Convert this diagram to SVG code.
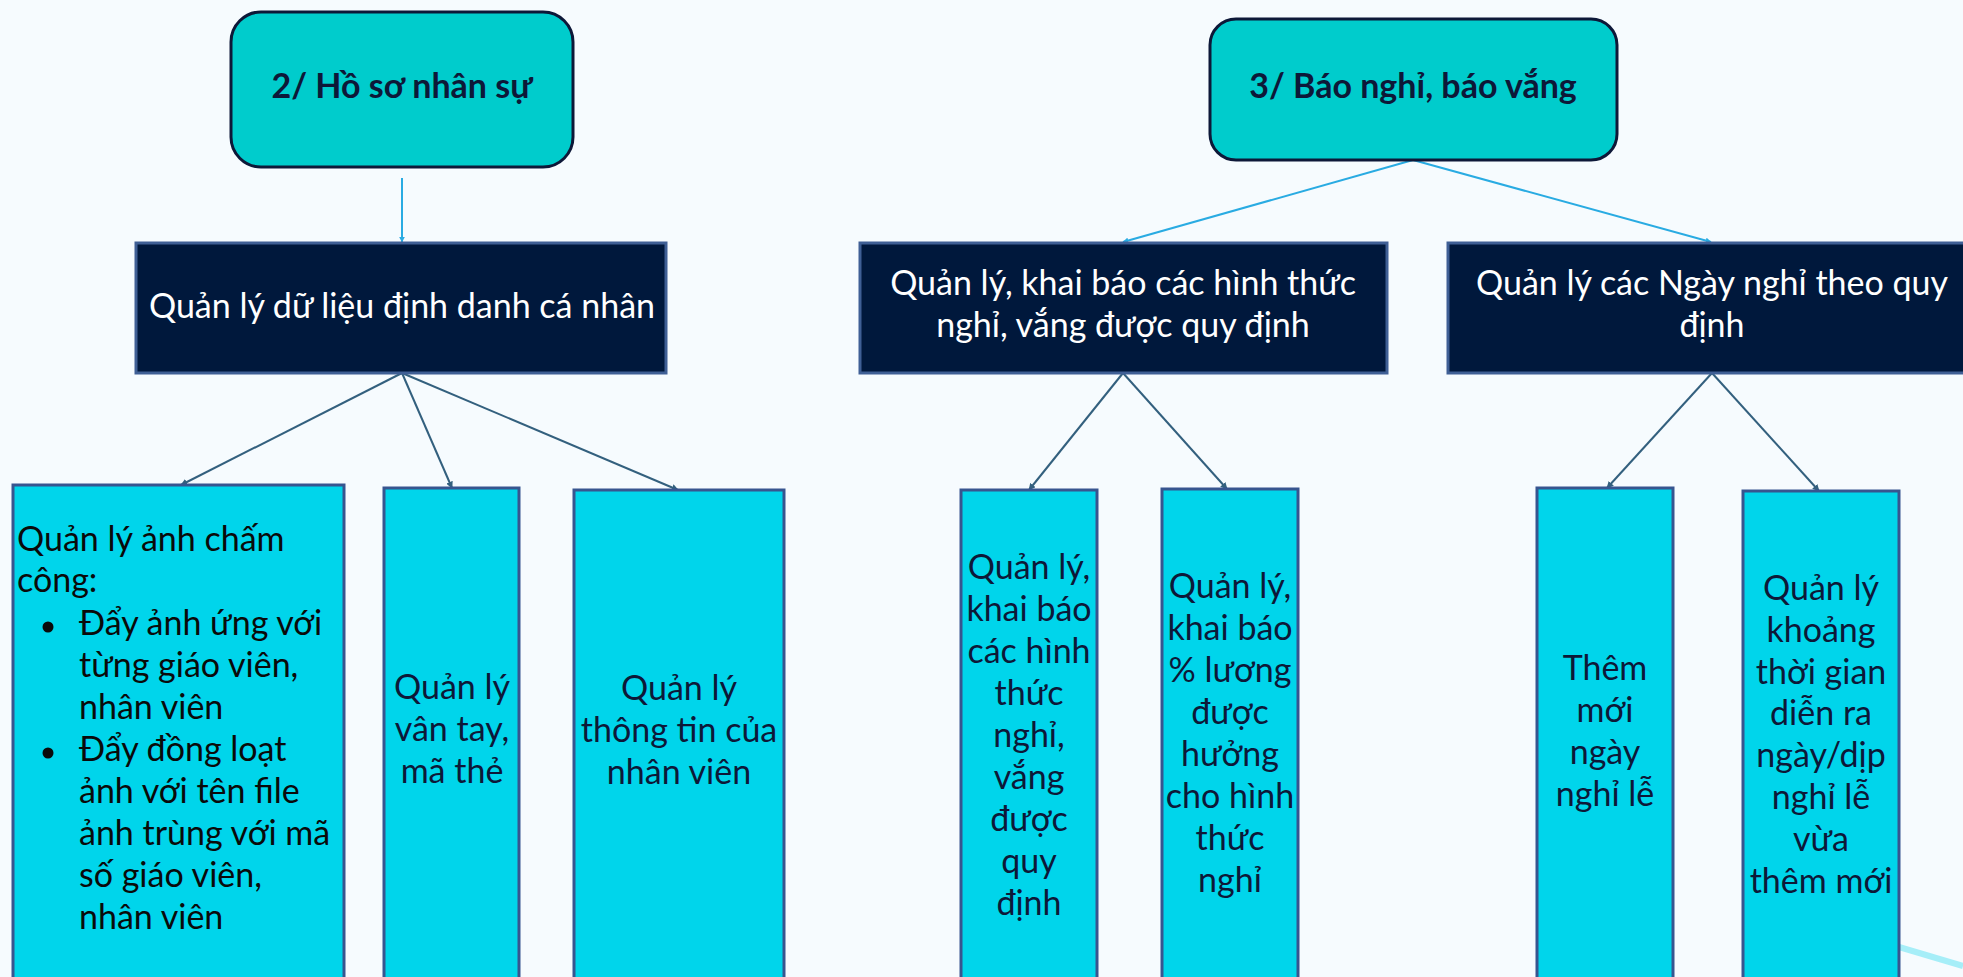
<svg xmlns="http://www.w3.org/2000/svg" width="1963" height="977" viewBox="0 0 1963 977">
<defs>
<style>
.title{fill:#00cccc;stroke:#0d1838;stroke-width:3}
.dark{fill:#00183c;stroke:#3f5f95;stroke-width:3}
.leaf{fill:#00d5eb;stroke:#37558f;stroke-width:3}
.tt{font-family:Lato,"Open Sans","Noto Sans",sans-serif;font-weight:bold;font-size:34px;fill:#0d1838;text-anchor:middle}
.dt{font-family:Lato,"Open Sans","Noto Sans",sans-serif;font-size:34px;fill:#ffffff;text-anchor:middle}
.lt{font-family:Lato,"Open Sans","Noto Sans",sans-serif;font-size:34px;fill:#0d1838;text-anchor:middle}
.at{font-family:Lato,"Open Sans","Noto Sans",sans-serif;font-size:34px;fill:#0a0a0a}
.c1{stroke:#29abe2;stroke-width:2;fill:none;marker-end:url(#ab)}
.c2{stroke:#33607e;stroke-width:2;fill:none;marker-end:url(#ad)}
</style>
<marker id="ab" viewBox="0 0 10 10" refX="9" refY="5" markerWidth="6" markerHeight="6" orient="auto" markerUnits="userSpaceOnUse"><path d="M0,0 L10,5 L0,10 z" fill="#29abe2"/></marker>
<marker id="ad" viewBox="0 0 10 10" refX="9" refY="5" markerWidth="7" markerHeight="7" orient="auto" markerUnits="userSpaceOnUse"><path d="M0,0 L10,5 L0,10 z" fill="#33607e"/></marker>
</defs>
<rect x="0" y="0" width="1963" height="977" fill="#f6fbfe"/>
<line x1="1899" y1="947" x2="1963" y2="966" stroke="#a6eef8" stroke-width="6"/>

<g id="connectors">
<line class="c1" x1="402" y1="178" x2="402" y2="242"/>
<line class="c1" x1="1413" y1="160" x2="1123" y2="242"/>
<line class="c1" x1="1413" y1="160" x2="1711" y2="242"/>
<line class="c2" x1="402" y1="373" x2="181" y2="485"/>
<line class="c2" x1="402" y1="373" x2="452" y2="488"/>
<line class="c2" x1="402" y1="373" x2="678" y2="490"/>
<line class="c2" x1="1123" y1="373" x2="1029" y2="490"/>
<line class="c2" x1="1123" y1="373" x2="1227" y2="489"/>
<line class="c2" x1="1712" y1="373" x2="1607" y2="488"/>
<line class="c2" x1="1712" y1="373" x2="1819" y2="491"/>
</g>

<g id="n-hoso">
<rect class="title" x="231" y="12" width="342" height="155" rx="30"/>
<text class="tt" x="402" y="98">2/ Hồ sơ nhân sự</text>
</g>
<g id="n-baonghi">
<rect class="title" x="1210" y="19" width="407" height="141" rx="26"/>
<text class="tt" x="1413" y="98">3/ Báo nghỉ, báo vắng</text>
</g>

<g id="n-dinhdanh">
<rect class="dark" x="136" y="243" width="530" height="130"/>
<text class="dt" x="402" y="318">Quản lý dữ liệu định danh cá nhân</text>
</g>
<g id="n-hinhthuc">
<rect class="dark" x="860" y="243" width="527" height="130"/>
<text class="dt" x="1123" y="295">Quản lý, khai báo các hình thức</text>
<text class="dt" x="1123" y="337">nghỉ, vắng được quy định</text>
</g>
<g id="n-ngaynghi">
<rect class="dark" x="1448" y="243" width="530" height="130"/>
<text class="dt" x="1712" y="295">Quản lý các Ngày nghỉ theo quy</text>
<text class="dt" x="1712" y="337">định</text>
</g>

<g id="n-anh">
<rect class="leaf" x="13" y="485" width="331" height="500"/>
<text class="at" x="17" y="551">Quản lý ảnh chấm</text>
<text class="at" x="17" y="592">công:</text>
<circle cx="48" cy="627" r="5.5" fill="#0a0a0a"/>
<text class="at" x="79" y="635">Đẩy ảnh ứng với</text>
<text class="at" x="79" y="677">từng giáo viên,</text>
<text class="at" x="79" y="719">nhân viên</text>
<circle cx="48" cy="753" r="5.5" fill="#0a0a0a"/>
<text class="at" x="79" y="761">Đẩy đồng loạt</text>
<text class="at" x="79" y="803">ảnh với tên file</text>
<text class="at" x="79" y="845">ảnh trùng với mã</text>
<text class="at" x="79" y="887">số giáo viên,</text>
<text class="at" x="79" y="929">nhân viên</text>
</g>
<g id="n-vantay">
<rect class="leaf" x="384" y="488" width="135" height="500"/>
<text class="lt" x="452" y="699">Quản lý</text>
<text class="lt" x="452" y="741">vân tay,</text>
<text class="lt" x="452" y="783">mã thẻ</text>
</g>
<g id="n-thongtin">
<rect class="leaf" x="574" y="490" width="210" height="500"/>
<text class="lt" x="679" y="700">Quản lý</text>
<text class="lt" x="679" y="742">thông tin của</text>
<text class="lt" x="679" y="784">nhân viên</text>
</g>
<g id="n-khaibao">
<rect class="leaf" x="961" y="490" width="136" height="500"/>
<text class="lt" x="1029" y="579">Quản lý,</text>
<text class="lt" x="1029" y="621">khai báo</text>
<text class="lt" x="1029" y="663">các hình</text>
<text class="lt" x="1029" y="705">thức</text>
<text class="lt" x="1029" y="747">nghỉ,</text>
<text class="lt" x="1029" y="789">vắng</text>
<text class="lt" x="1029" y="831">được</text>
<text class="lt" x="1029" y="873">quy</text>
<text class="lt" x="1029" y="915">định</text>
</g>
<g id="n-luong">
<rect class="leaf" x="1162" y="489" width="136" height="500"/>
<text class="lt" x="1230" y="598">Quản lý,</text>
<text class="lt" x="1230" y="640">khai báo</text>
<text class="lt" x="1230" y="682">% lương</text>
<text class="lt" x="1230" y="724">được</text>
<text class="lt" x="1230" y="766">hưởng</text>
<text class="lt" x="1230" y="808">cho hình</text>
<text class="lt" x="1230" y="850">thức</text>
<text class="lt" x="1230" y="892">nghỉ</text>
</g>
<g id="n-them">
<rect class="leaf" x="1537" y="488" width="136" height="500"/>
<text class="lt" x="1605" y="680">Thêm</text>
<text class="lt" x="1605" y="722">mới</text>
<text class="lt" x="1605" y="764">ngày</text>
<text class="lt" x="1605" y="806">nghỉ lễ</text>
</g>
<g id="n-khoang">
<rect class="leaf" x="1743" y="491" width="156" height="500"/>
<text class="lt" x="1821" y="600">Quản lý</text>
<text class="lt" x="1821" y="642">khoảng</text>
<text class="lt" x="1821" y="684">thời gian</text>
<text class="lt" x="1821" y="725">diễn ra</text>
<text class="lt" x="1821" y="767">ngày/dịp</text>
<text class="lt" x="1821" y="809">nghỉ lễ</text>
<text class="lt" x="1821" y="851">vừa</text>
<text class="lt" x="1821" y="893">thêm mới</text>
</g>
</svg>
